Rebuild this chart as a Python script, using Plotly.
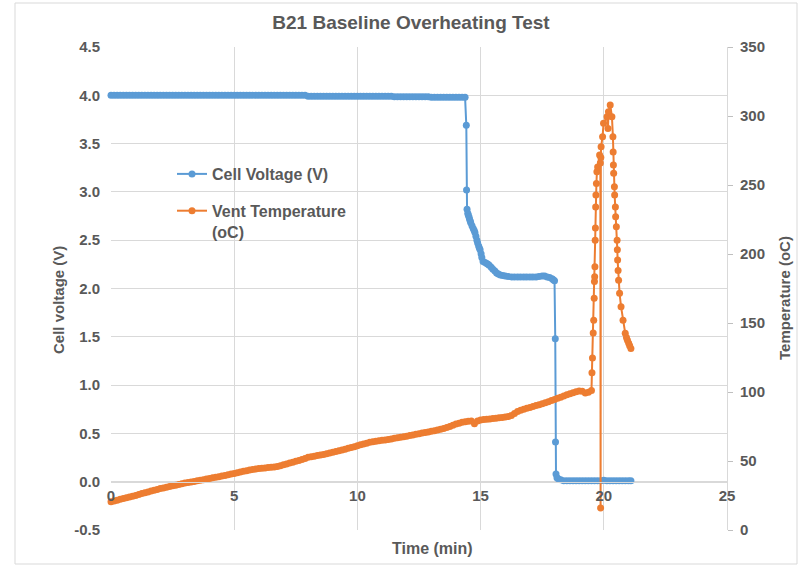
import plotly.graph_objects as go

# ---------------- data ----------------
time_v = [
    # flat region at ~4.0 V
    0.000, 0.125, 0.250, 0.375, 0.500, 0.625, 0.750, 0.875, 1.000, 1.125, 1.250, 1.375, 1.500, 1.625, 1.750, 1.875,
    2.000, 2.125, 2.250, 2.375, 2.500, 2.625, 2.750, 2.875, 3.000, 3.125, 3.250, 3.375, 3.500, 3.625, 3.750, 3.875,
    4.000, 4.125, 4.250, 4.375, 4.500, 4.625, 4.750, 4.875, 5.000, 5.125, 5.250, 5.375, 5.500, 5.625, 5.750, 5.875,
    6.000, 6.125, 6.250, 6.375, 6.500, 6.625, 6.750, 6.875, 7.000, 7.125, 7.250, 7.375, 7.500, 7.625, 7.750, 7.875,
    8.000, 8.125, 8.250, 8.375, 8.500, 8.625, 8.750, 8.875, 9.000, 9.125, 9.250, 9.375, 9.500, 9.625,
    9.750, 9.875, 10.000, 10.125, 10.250, 10.375, 10.500, 10.625, 10.750, 10.875, 11.000, 11.125, 11.250, 11.375,
    11.500, 11.625, 11.750, 11.875, 12.000, 12.125, 12.250, 12.375, 12.500, 12.625, 12.750, 12.875,
    13.000, 13.125, 13.250, 13.375, 13.500, 13.625, 13.750, 13.875, 14.000, 14.125, 14.250,
    # first drop
    14.37, 14.42, 14.43, 14.45, 14.48, 14.50, 14.53, 14.55, 14.58, 14.60, 14.65, 14.70, 14.74, 14.77,
    14.81, 14.85, 14.88, 14.92, 14.95, 14.98, 15.02, 15.05,
    # plateau ~2.1 V
    15.10, 15.18, 15.25, 15.30, 15.35, 15.43, 15.50, 15.58, 15.65, 15.72, 15.80, 15.90, 16.00, 16.12, 16.25, 16.37,
    16.50, 16.62, 16.75, 16.87, 17.00, 17.12, 17.25, 17.37, 17.50, 17.60, 17.70, 17.80, 17.90, 17.95, 18.00,
    # second drop
    18.03, 18.04, 18.06, 18.10, 18.15,
    # ~0 V
    18.250, 18.375, 18.500, 18.625, 18.750, 18.875, 19.000, 19.125, 19.250, 19.375, 19.500, 19.625,
    19.750, 19.875, 20.000, 20.125, 20.250, 20.375, 20.500, 20.625, 20.750, 20.875, 21.000, 21.100,
]
cell_voltage = [
    4.00, 4.00, 4.00, 4.00, 4.00, 4.00, 4.00, 4.00, 4.00, 4.00, 4.00, 4.00, 4.00, 4.00, 4.00, 4.00,
    4.00, 4.00, 4.00, 4.00, 4.00, 4.00, 4.00, 4.00, 4.00, 4.00, 4.00, 4.00, 4.00, 4.00, 4.00, 4.00,
    4.00, 4.00, 4.00, 4.00, 4.00, 4.00, 4.00, 4.00, 4.00, 4.00, 4.00, 4.00, 4.00, 4.00, 4.00, 4.00,
    4.00, 4.00, 4.00, 4.00, 4.00, 4.00, 4.00, 4.00, 4.00, 4.00, 4.00, 4.00, 4.00, 4.00, 4.00, 4.00,
    3.99, 3.99, 3.99, 3.99, 3.99, 3.99, 3.99, 3.99, 3.99, 3.99, 3.99, 3.99, 3.99, 3.99,
    3.99, 3.99, 3.99, 3.99, 3.99, 3.99, 3.99, 3.99, 3.99, 3.99, 3.99, 3.99, 3.99, 3.99,
    3.985, 3.985, 3.985, 3.985, 3.985, 3.985, 3.985, 3.985, 3.985, 3.985, 3.985, 3.985,
    3.98, 3.98, 3.98, 3.98, 3.98, 3.98, 3.98, 3.98, 3.98, 3.98, 3.98,
    3.98, 3.69, 3.02, 2.82, 2.78, 2.76, 2.74, 2.72, 2.70, 2.68, 2.65, 2.62, 2.60, 2.58,
    2.54, 2.50, 2.47, 2.44, 2.42, 2.40, 2.36, 2.32,
    2.28, 2.27, 2.26, 2.25, 2.24, 2.22, 2.20, 2.18, 2.16, 2.15, 2.14, 2.135, 2.13, 2.125, 2.12, 2.12,
    2.12, 2.12, 2.12, 2.12, 2.12, 2.12, 2.12, 2.125, 2.13, 2.13, 2.12, 2.115, 2.10, 2.09, 2.08,
    1.48, 0.41, 0.08, 0.04, 0.03,
    0.02, 0.01, 0.01, 0.01, 0.01, 0.01, 0.01, 0.01, 0.01, 0.01, 0.01, 0.01,
    0.01, 0.01, 0.015, 0.01, 0.01, 0.01, 0.01, 0.01, 0.01, 0.01, 0.01, 0.01,
]

time_t = [
    0.000, 0.125, 0.250, 0.375, 0.500, 0.625, 0.750, 0.875, 1.000, 1.125, 1.250, 1.375, 1.500, 1.625, 1.750, 1.875,
    2.000, 2.125, 2.250, 2.375, 2.500, 2.625, 2.750, 2.875, 3.000, 3.125, 3.250, 3.375, 3.500, 3.625, 3.750, 3.875,
    4.000, 4.125, 4.250, 4.375, 4.500, 4.625, 4.750, 4.875, 5.000, 5.125, 5.250, 5.375, 5.500, 5.625, 5.750, 5.875,
    6.000, 6.125, 6.250, 6.375, 6.500, 6.625, 6.750, 6.875, 7.000, 7.125, 7.250, 7.375, 7.500, 7.625, 7.750, 7.875,
    8.000, 8.125, 8.250, 8.375, 8.500, 8.625, 8.750, 8.875, 9.000, 9.125, 9.250, 9.375, 9.500, 9.625, 9.750, 9.875,
    10.000, 10.125, 10.250, 10.375, 10.500, 10.625, 10.750, 10.875, 11.000, 11.125, 11.250, 11.375, 11.500, 11.625, 11.750, 11.875,
    12.000, 12.125, 12.250, 12.375, 12.500, 12.625, 12.750, 12.875, 13.000, 13.125, 13.250, 13.375, 13.500, 13.625, 13.750, 13.875,
    14.000, 14.125, 14.250, 14.375, 14.500, 14.625, 14.750, 14.875, 15.000, 15.125, 15.250, 15.375, 15.500, 15.625, 15.750, 15.875,
    16.000, 16.125, 16.250, 16.375, 16.500, 16.625, 16.750, 16.875, 17.000, 17.125, 17.250, 17.375, 17.500, 17.625, 17.750, 17.875,
    18.000, 18.125, 18.250, 18.375, 18.500, 18.625, 18.750, 18.875, 19.000, 19.125, 19.250, 19.375, 19.500,
    # thermal runaway rise
    19.52, 19.54, 19.57, 19.59, 19.61, 19.62, 19.63, 19.64, 19.65, 19.66, 19.67, 19.68, 19.70, 19.72, 19.75,
    19.83, 19.86, 19.87, 19.88, 19.89, 19.95, 19.99, 20.13, 20.17, 20.19, 20.26,
    # decay
    20.33, 20.37, 20.38, 20.39, 20.40, 20.43, 20.44, 20.47, 20.48, 20.51, 20.54, 20.55, 20.56, 20.58, 20.60,
    20.64, 20.70, 20.78, 20.87, 20.92, 20.96, 21.01, 21.05, 21.10,
]
vent_temperature = [
    20.5, 21.0, 21.5, 22.2, 22.8, 23.4, 24.0, 24.5, 25.0, 25.8, 26.5, 27.0, 27.6, 28.2, 28.8, 29.4,
    30.0, 30.5, 31.0, 31.5, 32.0, 32.5, 33.0, 33.5, 34.0, 34.4, 34.8, 35.2, 35.6, 36.0, 36.5, 37.0,
    37.4, 37.8, 38.2, 38.6, 39.1, 39.5, 40.0, 40.5, 41.0, 41.5, 42.0, 42.5, 43.0, 43.4, 43.8, 44.2,
    44.6, 44.8, 45.0, 45.2, 45.5, 45.7, 46.0, 46.6, 47.2, 47.8, 48.5, 49.1, 49.8, 50.4, 51.0, 51.9,
    52.8, 53.1, 53.5, 53.9, 54.3, 54.8, 55.3, 55.8, 56.3, 56.9, 57.5, 58.0, 58.6, 59.2, 59.8, 60.4,
    61.0, 61.7, 62.3, 62.9, 63.5, 63.9, 64.3, 64.7, 65.0, 65.3, 65.6, 66.0, 66.5, 66.8, 67.2, 67.6,
    68.0, 68.4, 68.8, 69.3, 69.8, 70.2, 70.7, 71.1, 71.5, 72.0, 72.5, 73.0, 73.5, 74.2, 75.0, 75.9,
    76.8, 77.4, 78.0, 78.4, 78.8, 78.9, 77.0, 79.0, 79.8, 80.0, 80.3, 80.5, 80.8, 81.0, 81.3, 81.5,
    81.8, 82.3, 83.0, 84.5, 85.8, 86.7, 87.5, 88.2, 88.8, 89.5, 90.2, 90.8, 91.5, 92.2, 93.0, 93.8,
    94.6, 95.4, 96.2, 97.1, 98.0, 98.8, 99.5, 100.2, 100.8, 100.5, 99.2, 99.8, 101.0,
    114.0, 124.6, 142.7, 152.0, 168.0, 180.0, 183.6, 190.8, 210.0, 218.8, 234.0, 242.7, 251.0, 259.6, 263.0,
    271.7, 266.0, 16.0, 270.0, 277.8, 285.0, 294.7, 299.5, 291.0, 303.0, 308.0,
    299.5, 285.0, 274.0, 264.5, 258.5, 248.8, 242.8, 234.0, 227.0, 219.8, 210.0, 203.0, 195.7, 188.0, 181.0,
    171.5, 161.8, 152.0, 142.5, 139.5, 137.5, 135.3, 133.5, 131.6,
]
assert len(time_v) == len(cell_voltage), (len(time_v), len(cell_voltage))
assert len(time_t) == len(vent_temperature), (len(time_t), len(vent_temperature))

x_ticks = [0, 5, 10, 15, 20, 25]
v_ticks = [-0.5, 0.0, 0.5, 1.0, 1.5, 2.0, 2.5, 3.0, 3.5, 4.0, 4.5]
t_ticks = [0, 50, 100, 150, 200, 250, 300, 350]

BLUE = "#5B9BD5"
ORANGE = "#ED7D31"
TXT = "#595959"
GRID = "#D9D9D9"
FONT = "Liberation Sans, Arial, sans-serif"

fig = go.Figure()
fig.add_trace(go.Scatter(
    x=time_v, y=cell_voltage, name="Cell Voltage (V)", mode="lines+markers",
    line=dict(color=BLUE, width=2), marker=dict(color=BLUE, size=7),
    cliponaxis=False, legendgroup="a", yaxis="y",
))
fig.add_trace(go.Scatter(
    x=time_t, y=vent_temperature, name="Vent Temperature<br>(oC)", mode="lines+markers",
    line=dict(color=ORANGE, width=2), marker=dict(color=ORANGE, size=7),
    cliponaxis=False, legendgroup="b", yaxis="y2",
))

L, R, T, B = 111, 81, 47, 35
W, H = 808, 565
pw, ph = W - L - R, H - T - B


def px_x(px):
    return (px - L) / pw


def px_y(py):
    return (H - B - py) / ph


tickfont = dict(size=15, color=TXT, family=FONT, weight="bold")

fig.update_layout(
    width=W, height=H,
    margin=dict(l=L, r=R, t=T, b=B),
    paper_bgcolor="white", plot_bgcolor="white",
    font=dict(family=FONT, color=TXT),
    title=dict(text="<b>B21 Baseline Overheating Test</b>", x=px_x(411), xanchor="center",
               xref="paper", y=1 - 22 / H, yref="container", yanchor="middle",
               font=dict(size=19, color=TXT, family=FONT)),
    xaxis=dict(range=[0, 25], tickvals=x_ticks, ticktext=[str(v) for v in x_ticks],
               showgrid=True, gridcolor=GRID, gridwidth=1, zeroline=False,
               showline=True, linecolor=GRID, linewidth=1,
               anchor="free", position=0.1, ticks="", tickfont=tickfont),
    yaxis=dict(range=[-0.5, 4.5], tickvals=v_ticks, ticktext=["%.1f" % v for v in v_ticks],
               showgrid=True, gridcolor=GRID, gridwidth=1, zeroline=False, showline=False,
               ticks="", ticklabelstandoff=10, tickfont=tickfont),
    yaxis2=dict(range=[0, 350], tickvals=t_ticks, overlaying="y", side="right",
                showgrid=False, zeroline=False, showline=True, linecolor=GRID, linewidth=1,
                ticks="outside", ticklen=5, tickcolor="#BFBFBF", ticklabelstandoff=4,
                tickfont=tickfont),
    legend=dict(x=px_x(172), y=px_y(157), xanchor="left", yanchor="top",
                bgcolor="rgba(0,0,0,0)", traceorder="grouped", tracegroupgap=13,
                valign="top", itemwidth=30,
                font=dict(size=16, color=TXT, family=FONT, weight="bold")),
    showlegend=True,
)

fig.add_annotation(text="<b>Time (min)</b>", xref="paper", yref="paper",
                   x=px_x(432), y=px_y(548), xanchor="center", yanchor="middle", showarrow=False,
                   font=dict(size=16, color=TXT, family=FONT))
fig.add_annotation(text="<b>Cell voltage (V)</b>", xref="paper", yref="paper",
                   x=px_x(58), y=px_y(300), xanchor="center", yanchor="middle", showarrow=False,
                   textangle=-90, font=dict(size=15, color=TXT, family=FONT))
fig.add_annotation(text="<b>Temperature (oC)</b>", xref="paper", yref="paper",
                   x=px_x(784), y=px_y(298), xanchor="center", yanchor="middle", showarrow=False,
                   textangle=-90, font=dict(size=15, color=TXT, family=FONT))

# outer chart border
fig.add_shape(type="rect", xref="paper", yref="paper",
              x0=px_x(15), x1=px_x(797), y0=px_y(564), y1=px_y(3),
              line=dict(color=GRID, width=1), fillcolor="rgba(0,0,0,0)", layer="below")

fig.write_html("out.html")
